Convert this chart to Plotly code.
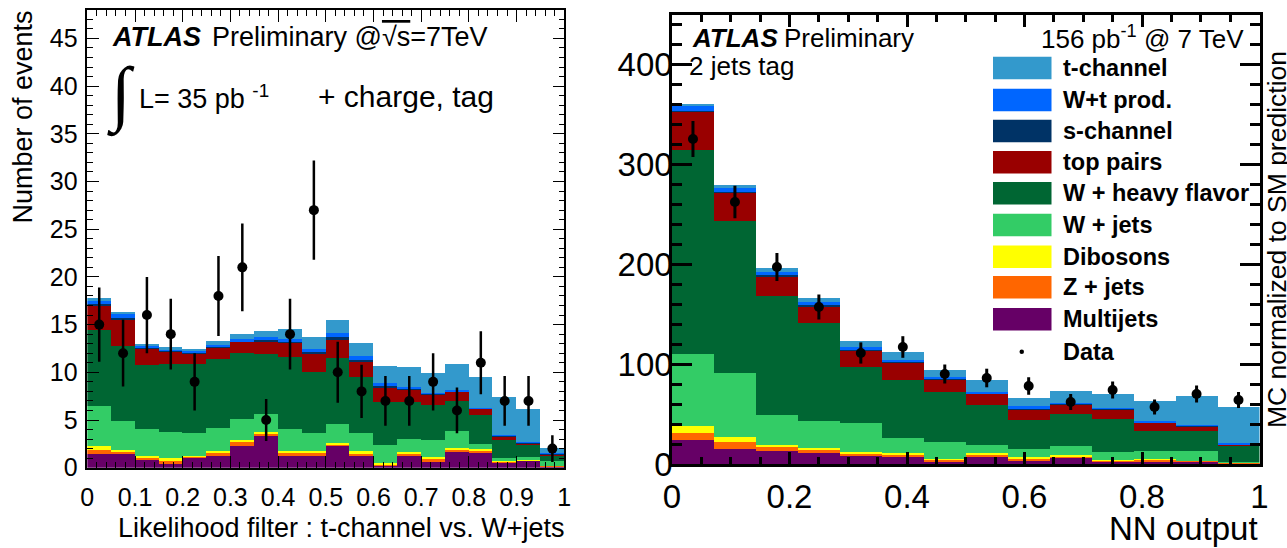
import plotly.graph_objects as go

W, H = 1287, 548
def PX(x): return x / W
def PY(y): return 1 - y / H

# ---------------- left panel: likelihood filter (20 bins of 0.05) ----------------
lh_x = [0.025, 0.075, 0.125, 0.175, 0.225, 0.275, 0.325, 0.375, 0.425, 0.475,
        0.525, 0.575, 0.625, 0.675, 0.725, 0.775, 0.825, 0.875, 0.925, 0.975]
lh_width = 0.05
lh_multijets = [1.5, 1.5, 0.9, 0.4, 1.05, 1.3, 2.3, 3.3, 1.3, 1.3, 2.3, 1.25, 0.25, 1.2, 0.65, 1.75, 1.65, 0.6, 0.75, 0.15]
lh_zjets     = [0.4, 0.25, 0.15, 0.4, 0.15, 0.35, 0.5, 0.35, 0.3, 0.35, 0.2, 0.3, 0.1, 0.35, 0.35, 0.15, 0.15, 0.05, 0.02, 0.05]
lh_dibosons  = [0.4, 0.15, 0.15, 0.2, 0.05, 0.15, 0.15, 0.15, 0.2, 0.15, 0.15, 0.2, 0.15, 0.1, 0.1, 0.15, 0.15, 0.1, 0.03, 0.02]
lh_wjets     = [4.2, 3.0, 2.9, 2.8, 2.4, 2.4, 2.15, 1.8, 2.3, 1.85, 2.0, 1.9, 1.95, 1.35, 1.8, 1.85, 0.6, 0.3, 0.3, 0.53]
lh_whf       = [8.0, 7.9, 6.7, 7.1, 7.25, 7.2, 6.9, 6.3, 7.55, 6.45, 6.85, 5.85, 4.5, 3.95, 3.65, 3.1, 2.95, 1.9, 1.35, 0.5]
lh_ttbar     = [2.55, 2.8, 1.7, 1.3, 1.1, 1.2, 1.2, 1.4, 1.45, 1.9, 2.0, 1.7, 1.45, 1.25, 1.15, 1.0, 0.7, 0.35, 0.15, 0.2]
lh_schan     = [0.15, 0.15, 0.1, 0.08, 0.1, 0.1, 0.1, 0.15, 0.15, 0.15, 0.2, 0.15, 0.15, 0.1, 0.05, 0.05, 0.03, 0.05, 0.03, 0.05]
lh_wt        = [0.3, 0.35, 0.2, 0.12, 0.2, 0.2, 0.2, 0.25, 0.25, 0.35, 0.4, 0.35, 0.3, 0.2, 0.1, 0.1, 0.07, 0.15, 0.07, 0.1]
lh_tchan     = [0.3, 0.25, 0.2, 0.3, 0.2, 0.4, 0.5, 0.7, 1.1, 1.2, 1.4, 1.4, 1.85, 2.05, 2.15, 2.75, 3.25, 3.95, 3.5, 0.5]
lh_data      = [15, 12, 16, 14, 9, 18, 21, 5, 14, 27, 10, 8, 7, 7, 9, 6, 11, 7, 7, 2]
lh_data_err  = [3.9, 3.5, 4.0, 3.7, 3.0, 4.2, 4.6, 2.2, 3.7, 5.2, 3.2, 2.8, 2.6, 2.6, 3.0, 2.4, 3.3, 2.6, 2.6, 1.4]

# ---------------- right panel: NN output (14 bins) ----------------
nn_x = [0.0357, 0.1071, 0.1786, 0.25, 0.3214, 0.3929, 0.4643, 0.5357, 0.6071, 0.6786,
        0.75, 0.8214, 0.8929, 0.9643]
nn_width = 1 / 14
nn_multijets = [24.5, 15.2, 12.8, 10.8, 8.4, 7.7, 2.7, 7.7, 3.4, 6.0, 2.4, 2.7, 2.4, 0.7]
nn_zjets     = [6.8, 6.7, 4.0, 3.7, 2.0, 1.7, 1.3, 1.7, 2.0, 1.7, 1.0, 1.3, 0.6, 0.3]
nn_dibosons  = [6.7, 5.4, 2.4, 1.7, 1.4, 1.4, 1.0, 1.4, 1.3, 1.7, 1.0, 0.8, 0.4, 0.2]
nn_wjets     = [72.4, 63.6, 30.3, 26.5, 29.2, 15.5, 16.9, 8.7, 8.5, 8.4, 7.4, 8.0, 10.1, 0.5]
nn_whf       = [203.4, 152.5, 118.5, 98.0, 55.6, 57.9, 49.8, 39.4, 28.5, 32.7, 33.6, 20.2, 19.2, 16.8]
nn_ttbar     = [38.2, 27.6, 19.9, 16.9, 16.9, 16.8, 12.5, 11.1, 10.8, 9.4, 9.1, 8.4, 5.0, 1.0]
nn_schan     = [1.5, 1.2, 1.0, 1.0, 0.8, 0.8, 0.7, 0.6, 0.9, 0.4, 0.5, 0.4, 0.3, 0.4]
nn_wt        = [4.5, 3.8, 3.4, 3.0, 2.7, 2.6, 2.0, 1.8, 2.8, 1.0, 1.2, 0.9, 0.7, 0.9]
nn_tchan     = [2.5, 3.5, 3.7, 4.4, 6.0, 7.4, 6.7, 11.8, 8.1, 11.7, 13.5, 20.6, 29.7, 36.4]
nn_data      = [325, 262, 197, 157, 111, 117, 90, 86, 78, 62, 74, 57, 70, 64]
nn_data_err  = [18, 16.2, 14, 12.5, 10.6, 10.8, 9.5, 9.3, 8.8, 7.9, 8.6, 7.5, 8.4, 8.0]

# process names (legend order top to bottom) and colours
proc_names  = ["t-channel", "W+t prod.", "s-channel", "top pairs", "W + heavy flavor",
               "W + jets", "Dibosons", "Z + jets", "Multijets"]
proc_colors = ["#3399CC", "#0066FF", "#003366", "#990000", "#006633",
               "#33CC66", "#FFFF00", "#FF6600", "#660066"]

lh_stack = [lh_tchan, lh_wt, lh_schan, lh_ttbar, lh_whf, lh_wjets, lh_dibosons, lh_zjets, lh_multijets]
nn_stack = [nn_tchan, nn_wt, nn_schan, nn_ttbar, nn_whf, nn_wjets, nn_dibosons, nn_zjets, nn_multijets]

fig = go.Figure()

# stacked histograms (bottom first)
for i in reversed(range(len(proc_names))):
    fig.add_trace(go.Bar(x=lh_x, y=lh_stack[i], width=lh_width, name=proc_names[i],
                         marker=dict(color=proc_colors[i], line=dict(width=0)),
                         xaxis="x", yaxis="y", showlegend=False))
    fig.add_trace(go.Bar(x=nn_x, y=nn_stack[i], width=nn_width, name=proc_names[i],
                         marker=dict(color=proc_colors[i], line=dict(width=0)),
                         xaxis="x2", yaxis="y2", showlegend=False))

fig.add_trace(go.Scatter(x=lh_x, y=lh_data, mode="markers", xaxis="x", yaxis="y",
                         marker=dict(color="black", size=10),
                         error_y=dict(type="data", array=lh_data_err, thickness=2.5, width=0, color="black"),
                         showlegend=False))
fig.add_trace(go.Scatter(x=nn_x, y=nn_data, mode="markers", xaxis="x2", yaxis="y2",
                         marker=dict(color="black", size=10),
                         error_y=dict(type="data", array=nn_data_err, thickness=3, width=0, color="black"),
                         showlegend=False))

LFONT = "Liberation Sans, Arial, Helvetica, sans-serif"

ax_common = dict(showline=True, mirror="allticks", linecolor="black", ticks="inside",
                 tickcolor="black", showgrid=False, zeroline=False, automargin=False)

fig.update_layout(
    width=W, height=H, margin=dict(l=0, r=0, t=0, b=0, pad=0, autoexpand=False),
    paper_bgcolor="white", plot_bgcolor="white",
    barmode="stack", bargap=0, showlegend=False,
    font=dict(family=LFONT, color="black"),
    xaxis=dict(domain=[PX(87.3), PX(564.3)], range=[0, 1], anchor="y",
               dtick=0.1, ticklen=12, tickwidth=1.2, linewidth=1.5,
               minor=dict(dtick=0.02, ticklen=6, ticks="inside", tickcolor="black", tickwidth=1),
               tickfont=dict(size=25, family=LFONT), ticklabelstandoff=7, **ax_common),
    yaxis=dict(domain=[PY(467.7), PY(9.8)], range=[0, 48], anchor="x",
               dtick=5, ticklen=12, tickwidth=1.2, linewidth=1.5,
               minor=dict(dtick=1, ticklen=6, ticks="inside", tickcolor="black", tickwidth=1),
               tickfont=dict(size=25, family=LFONT), ticklabelstandoff=3, **ax_common),
    xaxis2=dict(domain=[PX(672), PX(1259.5)], range=[0, 1], anchor="y2",
                dtick=0.2, ticklen=12, tickwidth=2.5, linewidth=2.5,
                minor=dict(dtick=0.05, ticklen=7, ticks="inside", tickcolor="black", tickwidth=2.5),
                tickfont=dict(size=33, family=LFONT), ticklabelstandoff=2, **ax_common),
    yaxis2=dict(domain=[PY(464), PY(15)], range=[0, 449], anchor="x2",
                dtick=100, ticklen=20, tickwidth=2.5, linewidth=2.5,
                minor=dict(dtick=20, ticklen=10, ticks="inside", tickcolor="black", tickwidth=2.5),
                tickfont=dict(size=33, family=LFONT), ticklabelstandoff=-10, **ax_common),
)

ann = []
def text(x, y, s, size, xanchor="left", yanchor="middle", angle=0, family=LFONT):
    ann.append(dict(x=PX(x), y=PY(y), xref="paper", yref="paper", text=s, showarrow=False,
                    xanchor=xanchor, yanchor=yanchor, textangle=angle, borderpad=0,
                    font=dict(size=size, family=family, color="black")))

# left panel texts
text(111, 37, "<b><i>ATLAS</i></b>", 27)
text(211, 37, "Preliminary @<span style='text-decoration:overline'>√s</span>=7TeV", 27)
text(106, 95, "∫", 72, family="Liberation Serif, DejaVu Serif, serif")
text(138, 97, "L= 35 pb <sup>-1</sup>", 27)
text(317, 97, "+ charge, tag", 30)
text(565, 528, "Likelihood filter : t-channel vs. W+jets", 27, xanchor="right")
text(22, 10, "Number of events", 27, xanchor="center", yanchor="top", angle=-90)

# right panel texts
text(691, 38, "<b><i>ATLAS</i></b>", 26)
text(783, 38, "Preliminary", 26)
text(1245, 38, "156 pb<sup>-1</sup> @ 7 TeV", 26, xanchor="right")
text(688, 66, "2 jets tag", 26)
text(1259, 548, "NN output", 33, xanchor="right", yanchor="bottom")
text(1261, 240, "MC normalized to SM prediction", 26.5, angle=-90)

# manual legend
shapes = []
leg_y = [68, 100, 131, 162.3, 193.3, 225, 256.7, 287.3, 319.3]
for yy, nm, col in zip(leg_y, proc_names, proc_colors):
    shapes.append(dict(type="rect", xref="paper", yref="paper",
                       x0=PX(993), x1=PX(1051.5), y0=PY(yy + 11.3), y1=PY(yy - 11.3),
                       fillcolor=col, line=dict(width=0)))
    text(1062, yy, "<b>" + nm + "</b>", 23.5)
shapes.append(dict(type="circle", xref="paper", yref="paper",
                   x0=PX(1019.5), x1=PX(1024), y0=PY(354), y1=PY(349.5),
                   fillcolor="black", line=dict(width=0)))
text(1062, 351.7, "<b>Data</b>", 23.5)

fig.update_layout(annotations=ann, shapes=shapes)
fig.write_html("out.html")
